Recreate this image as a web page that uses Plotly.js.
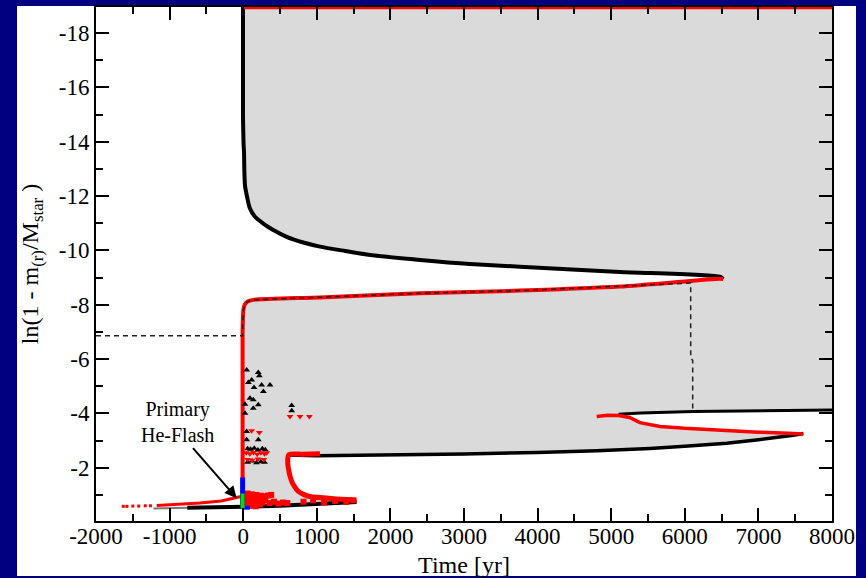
<!DOCTYPE html>
<html><head><meta charset="utf-8">
<script src="https://cdn.plot.ly/plotly-3.0.1.min.js"></script>
<style>html,body{margin:0;padding:0;background:#000080;}#chart{width:866px;height:578px;}</style>
</head><body><div id="chart"></div>
<script>
// ---- data ----
const xTickVals = [-2000,-1000,0,1000,2000,3000,4000,5000,6000,7000,8000];
const xTickText = ['-2000','-1000','0','1000','2000','3000','4000','5000','6000','7000','8000'];
const xMinorVals = [-1500,-500,500,1500,2500,3500,4500,5500,6500,7500];
const yTickVals = [-18,-16,-14,-12,-10,-8,-6,-4,-2];
const yTickText = ['-18','-16','-14','-12','-10','-8','-6','-4','-2'];
const yMinorVals = [-17,-15,-13,-11,-9,-7,-5,-3,-1];

// outer (upper) black boundary of the convective zone
const outerX = [-3, -3, 5, 11, 15, 24, 48, 92, 160, 273, 409, 591, 817, 1043, 1383, 1723, 2402, 3082, 3761, 5120, 6478, 6523];
const outerY = [-19, -15, -13.9, -13.63, -13.01, -12.4, -12.03, -11.54, -11.24, -10.99, -10.75, -10.5, -10.29, -10.14, -9.98, -9.83, -9.65, -9.5, -9.4, -9.21, -9.03, -8.95];
// inner red boundary
const innerX = [6523, 6478, 5120, 3761, 2402, 1043, 137, 60, 20, 2, -8, -8];
const innerY = [-8.95, -8.96, -8.67, -8.52, -8.42, -8.27, -8.18, -8.12, -8.0, -7.8, -7.0, -1.6];
// dashed line
const dashX = [-2000, -8, -8, 2, 20, 60, 137, 1043, 2402, 3761, 5120, 6080, 6080, 6107, 6107];
const dashY = [-6.86, -6.86, -7.0, -7.8, -8.0, -8.12, -8.18, -8.27, -8.42, -8.52, -8.67, -8.8, -6.05, -5.95, -4.07];
// upper black line near -4
const upX = [5100, 5166, 5400, 6115, 7000, 7700, 7973, 8000];
const upY = [-3.97, -3.98, -4.02, -4.07, -4.1, -4.12, -4.13, -4.13];
// red wedge line
const wedgeX = [4802, 4950, 5100, 5250, 5391, 5520, 5663, 6000, 6569, 7000, 7400, 7610];
const wedgeY = [-3.89, -3.93, -3.92, -3.85, -3.66, -3.58, -3.52, -3.45, -3.36, -3.31, -3.27, -3.24];
// lower black line
const lowX = [7610, 7474, 7000, 6569, 6000, 5527, 4803, 4000, 3000, 2000, 1000, 600];
const lowY = [-3.26, -3.2, -3.03, -2.9, -2.79, -2.71, -2.63, -2.56, -2.51, -2.47, -2.44, -2.47];
// red curve bounding the white pocket
const pocketX = [1043, 800, 620, 605, 613, 659, 700, 749, 820, 907, 1224, 1496];
const pocketY = [-2.52, -2.5, -2.48, -2.3, -1.99, -1.5, -1.3, -1.13, -1.02, -0.94, -0.86, -0.82];
// bottom black line
const bottomX = [1540, 1000, 500, 0, -760];
const bottomY = [-0.74, -0.65, -0.6, -0.56, -0.53];
const bottomThinX = [-760, -1220];
const bottomThinY = [-0.53, -0.5];
// red line lower left
const redLowX = [-1175, -900, -587, -300, -134, -30, 0];
const redLowY = [-0.61, -0.64, -0.70, -0.78, -0.88, -0.94, -0.96];
const redDotX = [-1630, -1580, -1500, -1420, -1330, -1260];
const redDotY = [-0.58, -0.58, -0.59, -0.59, -0.6, -0.6];
// red blob near the flash
const blobX = [30, 60, 90, 120, 150, 180, 210, 240, 270, 300, 340, 380, 60, 100, 140, 180, 220, 260, 300, 360, 420, 480, 540, 600, 50, 110, 170, 230, 820, 950, 1100, 1250, 1400, 1500];
const blobY = [-1.0, -1.05, -0.98, -1.02, -0.95, -1.0, -0.92, -0.97, -0.9, -0.95, -0.98, -1.0, -0.8, -0.75, -0.85, -0.7, -0.78, -0.72, -0.8, -0.7, -0.75, -0.68, -0.72, -0.7, -0.6, -0.62, -0.58, -0.65, -0.75, -0.8, -0.72, -0.78, -0.74, -0.8];
// scattered points
const blackDotX = [47,205,219,115,70,251,364,147,274,92,137,205,137,24,24,659,659,47,47,205,60,100,150,200,260,300,60,120,180,240,290];
const blackDotY = [-5.6,-5.51,-5.39,-5.23,-5.14,-5.05,-5.05,-4.95,-4.81,-4.56,-4.5,-4.32,-4.19,-4.34,-4.01,-4.29,-4.1,-3.33,-3.03,-3.03,-2.7,-2.68,-2.72,-2.65,-2.7,-2.66,-2.2,-2.25,-2.18,-2.22,-2.2];
const redTriX = [636,772,899,115,219,40,90,140,190,240,290,320,60,120,200,280];
const redTriY = [-3.89,-3.89,-3.89,-3.36,-3.3,-2.55,-2.52,-2.56,-2.5,-2.55,-2.52,-2.55,-2.3,-2.28,-2.32,-2.3];
// blue and green segments at t = 0
const blueX = [-8, -8];
const blueY = [-1.64, -0.48];
const blueFootX = [0, 90];
const blueFootY = [-0.53, -0.53];
const greenX = [-8, -8];
const greenY = [-1.05, -0.5];
// top red line
const topX = [0, 8000];
const topY = [-18.93, -18.93];

// ---- gray region polygon built from the boundaries ----
const rev = a => a.slice().reverse();
const grayX = [].concat([-3, 8000, 8000], rev(upX), [4802], wedgeX, lowX, pocketX.slice(2), bottomX.slice(0,4), rev(innerX), rev(outerX));
const grayY = [].concat([-19, -19, -4.13], rev(upY), [-3.95], wedgeY, lowY, pocketY.slice(2), bottomY.slice(0,4), rev(innerY), rev(outerY));

const line = (x, y, color, width, dash, shape) => ({x, y, type:'scatter', mode:'lines', line:{color, width, dash: dash||'solid', shape: shape||'linear', smoothing:0.7}, hoverinfo:'skip', showlegend:false});
const pts = (x, y, color, size, symbol) => ({x, y, type:'scatter', mode:'markers', marker:{color, size, symbol}, hoverinfo:'skip', showlegend:false});

const traces = [
  {x: grayX, y: grayY, type:'scatter', mode:'lines', fill:'toself', fillcolor:'#dadada', line:{width:0, color:'rgba(0,0,0,0)'}, hoverinfo:'skip', showlegend:false},
  line(outerX, outerY, '#000', 4, null, 'spline'),
  line(innerX, innerY, '#ff0000', 4, null, 'spline'),
  line(dashX, dashY, '#222', 1.5, '5px,4px'),
  line(upX, upY, '#000', 3),
  line(lowX, lowY, '#000', 3.5),
  line(wedgeX, wedgeY, '#ff0000', 3.5),
  line(bottomThinX, bottomThinY, '#777', 2),
  line(bottomX, bottomY, '#000', 4),
  line(pocketX, pocketY, '#ff0000', 5, null, 'spline'),
  line(redLowX, redLowY, '#ff0000', 3),
  pts(redDotX, redDotY, '#ff0000', 3, 'square'),
  pts(blobX, blobY, '#ff0000', 6, 'square'),
  pts(blackDotX, blackDotY, '#000', 6, 'triangle-up'),
  pts(redTriX, redTriY, '#ff0000', 6, 'triangle-down'),
  line(topX, topY, '#ff0000', 3),
  line(blueX, blueY, '#0000ff', 5),
  line(blueFootX, blueFootY, '#0000ff', 4),
  line(greenX, greenY, '#00dd00', 4)
];

const serif = '"Liberation Serif", "Times New Roman", serif';
const axisCommon = {
  ticks:'inside', ticklen:13, tickwidth:2, tickcolor:'#000',
  showline:true, linewidth:2, linecolor:'#000', mirror:'ticks',
  showgrid:false, zeroline:false, tickmode:'array',
  tickfont:{family:serif, size:23, color:'#000'}
};

const layout = {
  width:866, height:578,
  margin:{l:96, r:34, t:7, b:57},
  paper_bgcolor:'#000080', plot_bgcolor:'#ffffff',
  xaxis: Object.assign({}, axisCommon, {
    range:[-2000, 8000], tickvals:xTickVals, ticktext:xTickText, ticklabelstandoff:-7,
    minor:{tickmode:'array', tickvals:xMinorVals, ticks:'inside', ticklen:7, tickwidth:2, tickcolor:'#000'},
    title:{text:'Time [yr]', font:{family:serif, size:24, color:'#000'}, standoff:9}
  }),
  yaxis: Object.assign({}, axisCommon, {
    range:[-0.04, -18.96], tickvals:yTickVals, ticktext:yTickText,
    minor:{tickmode:'array', tickvals:yMinorVals, ticks:'inside', ticklen:7, tickwidth:2, tickcolor:'#000'},
    title:{text:'ln(1 - m<sub>(r)</sub>/M<sub>star</sub> )', font:{family:serif, size:24, color:'#000'}, standoff:13}
  }),
  shapes:[
    {type:'rect', xref:'paper', yref:'paper', x0:-0.1073, x1:1.0326, y0:-0.107, y1:1.0019, fillcolor:'#ffffff', line:{width:0}, layer:'below'}
  ],
  annotations:[
    {x:-893, y:-3.67, xref:'x', yref:'y', text:'Primary<br>He-Flash', showarrow:false, font:{family:serif, size:20, color:'#000'}},
    {x:-88, y:-0.88, ax:-700, ay:-2.78, axref:'x', ayref:'y', xref:'x', yref:'y', text:'', showarrow:true, arrowhead:2, arrowsize:1.2, arrowwidth:2, arrowcolor:'#000'}
  ]
};

Plotly.newPlot('chart', traces, layout, {displayModeBar:false, staticPlot:true});
</script>
</body></html>
